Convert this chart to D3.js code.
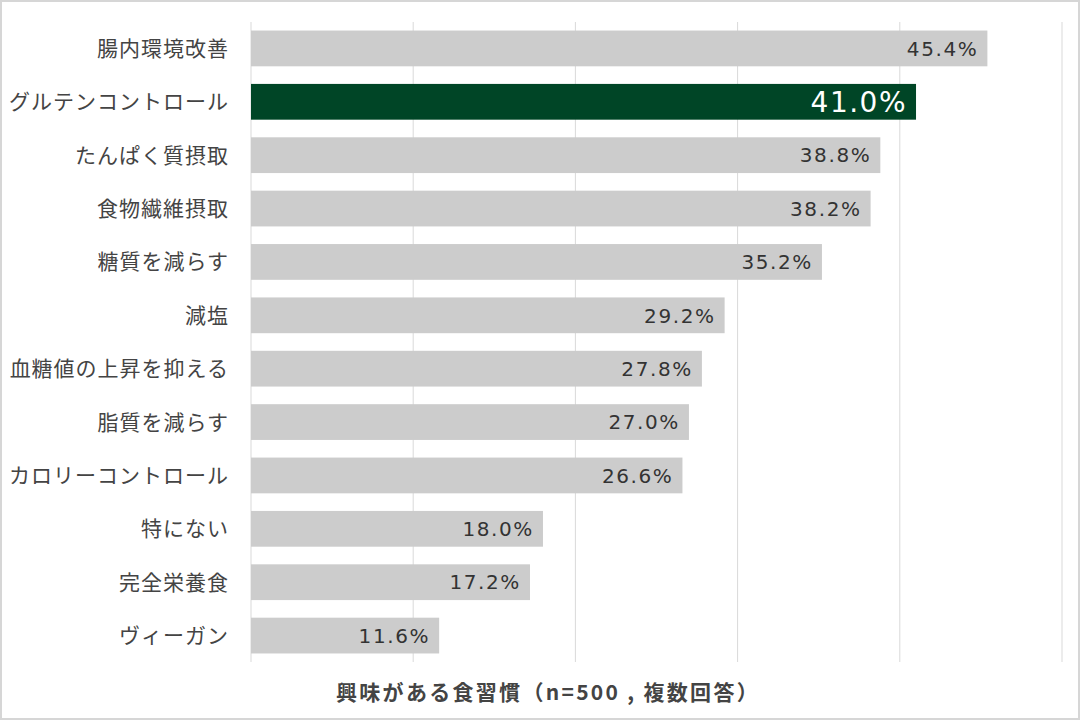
<!DOCTYPE html>
<html><head><meta charset="utf-8">
<script src="https://cdn.jsdelivr.net/npm/d3@7"></script>
<style>
html,body{margin:0;padding:0;background:#fff;}
svg{display:block;}
</style></head>
<body>
<svg id="chart" width="1080" height="720"></svg>
<script>
const categories = ["腸内環境改善","グルテンコントロール","たんぱく質摂取","食物繊維摂取","糖質を減らす","減塩","血糖値の上昇を抑える","脂質を減らす","カロリーコントロール","特にない","完全栄養食","ヴィーガン"];
const values = [45.4,41.0,38.8,38.2,35.2,29.2,27.8,27.0,26.6,18.0,17.2,11.6];
const highlight = "グルテンコントロール";
const xTicks = [0,10,20,30,40,50];
const axisTitle = "興味がある食習慣（n=500 , 複数回答）";

const svg = d3.select("#chart");
const W = 1080, H = 720;
const m = {left:251, right:18, top:22, bottom:58};

svg.append("rect").attr("x",1).attr("y",1).attr("width",W-2).attr("height",H-2)
  .attr("fill","#fff").attr("stroke","#d6d6d6").attr("stroke-width",2);

const x = d3.scaleLinear().domain([0,50]).range([m.left, W-m.right]);
const y = d3.scaleBand().domain(categories).range([m.top, H-m.bottom]).paddingInner(0.33).paddingOuter(0.16);

const data = categories.map((c,i)=>({c, v:values[i]}));

svg.append("g").selectAll("line").data(xTicks).join("line")
  .attr("x1",d=>x(d)).attr("x2",d=>x(d))
  .attr("y1",m.top).attr("y2",H-m.bottom)
  .attr("stroke","#d9d9d9").attr("stroke-width",1);

svg.append("g").selectAll("rect").data(data).join("rect")
  .attr("x",x(0)).attr("y",d=>y(d.c))
  .attr("width",d=>x(d.v)-x(0)).attr("height",y.bandwidth())
  .attr("fill",d=>d.c===highlight?"#004526":"#cccccc");

svg.append("g").selectAll("text").data(data).join("text")
  .attr("x",d=>x(d.v)-(d.c===highlight?9:9)).attr("y",d=>y(d.c)+y.bandwidth()/2)
  .attr("dy","0.36em").attr("text-anchor","end")
  .attr("font-family","'DejaVu Sans', sans-serif")
  .attr("font-size",d=>d.c===highlight?28:20)
  .attr("letter-spacing",d=>d.c===highlight?1.5:1.6)
  .attr("fill",d=>d.c===highlight?"#ffffff":"#333333")
  .text(d=>d.v.toFixed(1)+"%");

svg.append("g").selectAll("text").data(data).join("text")
  .attr("x",m.left-22).attr("y",d=>y(d.c)+y.bandwidth()/2)
  .attr("dy","0.36em").attr("text-anchor","end")
  .attr("font-family","'Noto Sans CJK JP', sans-serif")
  .attr("font-size",21).attr("letter-spacing",1).attr("fill","#444")
  .text(d=>d.c);

svg.append("text").attr("x",548).attr("y",692).attr("dy","0.36em")
  .attr("text-anchor","middle")
  .attr("font-family","'Noto Sans CJK JP', sans-serif")
  .attr("font-weight","bold").attr("font-size",21).attr("letter-spacing",2.3).attr("fill","#444")
  .text(axisTitle);
</script>
</body></html>
